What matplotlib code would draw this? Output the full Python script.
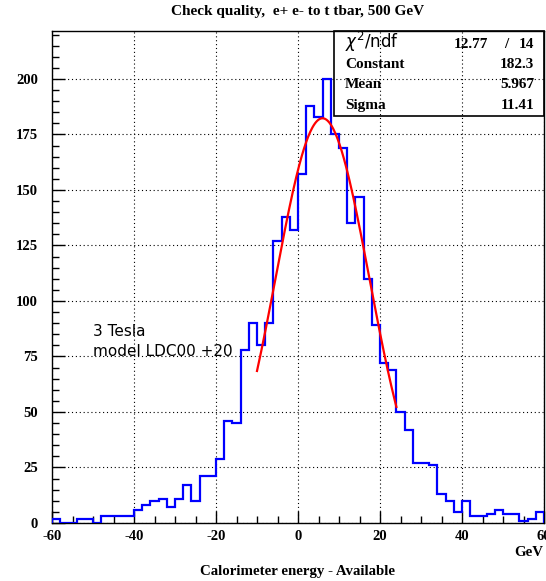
import numpy as np
import matplotlib
matplotlib.use('Agg')
import matplotlib.pyplot as plt
from matplotlib.patches import Rectangle
from matplotlib.ticker import MultipleLocator

plt.rcParams['axes.unicode_minus'] = False

# Histogram contents, 2 GeV bins from -60 to 60
bin_edges = np.arange(-60, 62, 2)
counts = [2, 0, 0, 2, 2, 0, 3, 3, 3, 3,
          6, 8, 10, 11, 7, 11, 17, 10, 21, 21,
          29, 46, 45, 78, 90, 80, 90, 127, 138, 132,
          157, 188, 183, 200, 175, 169, 135, 147, 110, 89,
          72, 69, 50, 42, 27, 27, 26, 13, 10, 5,
          10, 3, 3, 4, 6, 4, 4, 1, 2, 5]

# Gaussian fit result (from the stats box)
fit_constant = 182.3
fit_mean = 5.967
fit_sigma = 11.41
fit_range = (-10, 24)
chi2, ndf = 12.77, 14

serif = 'Liberation Serif'

fig = plt.figure(figsize=(5.46, 5.81), dpi=100)
ax = fig.add_axes([52 / 546, 1 - 523 / 581, 492 / 546, 492 / 581])

# Histogram and fit
ax.stairs(counts, bin_edges, color='blue', linewidth=1.6, zorder=3)
xf = np.linspace(fit_range[0], fit_range[1], 200)
yf = fit_constant * np.exp(-0.5 * ((xf - fit_mean) / fit_sigma) ** 2)
ax.plot(xf, yf, color='red', linewidth=1.6, zorder=4)

# Axes
ax.set_xlim(-60, 60)
ax.set_ylim(0, 221.6)
ax.xaxis.set_major_locator(MultipleLocator(20))
ax.xaxis.set_minor_locator(MultipleLocator(5))
ax.yaxis.set_major_locator(MultipleLocator(25))
ax.yaxis.set_minor_locator(MultipleLocator(5))
ax.tick_params(which='both', direction='in', top=False, right=False, width=1)
ax.tick_params(which='major', length=9)
ax.tick_params(which='minor', length=5)
ax.tick_params(axis='x', which='major', pad=5)
ax.tick_params(axis='y', which='major', pad=10)
for lab in ax.get_xticklabels() + ax.get_yticklabels():
    lab.set_fontfamily(serif)
    lab.set_fontweight('bold')
    lab.set_fontsize(10.5)
ax.grid(True, which='major', color='black', linestyle=(0, (1, 2.5)), linewidth=0.8)
for s in ax.spines.values():
    s.set_linewidth(1.0)

# Labels
fig.text(298 / 546, 1 - 12 / 581, 'Check quality,  e+ e- to t tbar, 500 GeV',
         ha='center', va='center', fontfamily=serif, fontweight='bold', fontsize=11)
fig.text(298 / 546, 1 - 572 / 581, 'Calorimeter energy - Available',
         ha='center', va='center', fontfamily=serif, fontweight='bold', fontsize=10.7)
fig.text(543 / 546, 1 - 553 / 581, 'GeV',
         ha='right', va='center', fontfamily=serif, fontweight='bold', fontsize=10.7)

ax.text(-50, 84.4, '3 Tesla', fontfamily='DejaVu Sans', fontsize=11,
        ha='left', va='baseline')
ax.text(-50, 75, 'model LDC00 +20', fontfamily='DejaVu Sans', fontsize=11,
        ha='left', va='baseline')

# Stats box
bx0, bx1 = 334 / 546, 544 / 546
by1, by0 = 1 - 31 / 581, 1 - 115.5 / 581
fig.patches.append(Rectangle((bx0, by0), bx1 - bx0, by1 - by0, transform=fig.transFigure,
                             fill=False, edgecolor='black', linewidth=1.2, zorder=5))
rows_y = [48, 68, 88.5, 109]
lx, rx = 345 / 546, 534 / 546
fig.text(lx, 1 - rows_y[0] / 581, r'$\chi^2$/ndf', fontfamily='DejaVu Sans',
         fontsize=12, ha='left', va='baseline')
fig.text(488 / 546, 1 - rows_y[0] / 581, f'{chi2:.2f}', fontfamily=serif,
         fontweight='bold', fontsize=11, ha='right', va='baseline')
fig.text(506 / 546, 1 - rows_y[0] / 581, '/', fontfamily=serif,
         fontweight='bold', fontsize=11, ha='center', va='baseline')
fig.text(rx, 1 - rows_y[0] / 581, f'{ndf}', fontfamily=serif,
         fontweight='bold', fontsize=11, ha='right', va='baseline')
stat_names = ['Constant', 'Mean', 'Sigma']
stat_values = [f'{fit_constant:.1f}', f'{fit_mean:.3f}', f'{fit_sigma:.2f}']
for yy, name, val in zip(rows_y[1:], stat_names, stat_values):
    fig.text(lx, 1 - yy / 581, name, fontfamily=serif, fontweight='bold',
             fontsize=11, ha='left', va='baseline')
    fig.text(rx, 1 - yy / 581, val, fontfamily=serif, fontweight='bold',
             fontsize=11, ha='right', va='baseline')

fig.savefig('out.png', dpi=100)
